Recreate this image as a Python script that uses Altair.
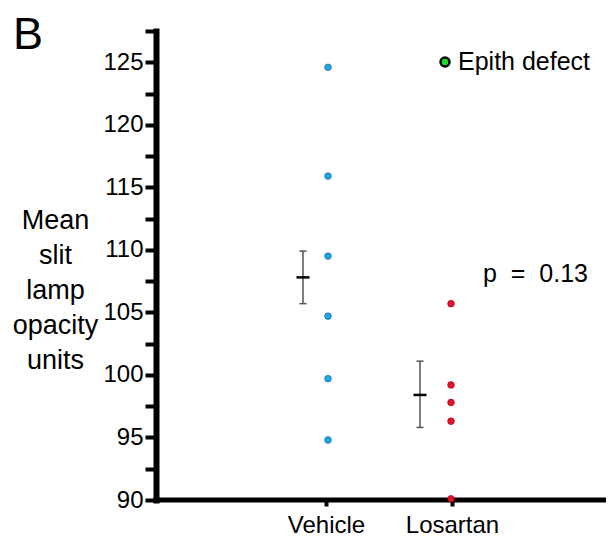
import altair as alt
import pandas as pd

# ---- data ----
groups = ["Vehicle", "Losartan"]
vehicle_values = [124.6, 115.9, 109.5, 104.7, 99.7, 94.8]
losartan_values = [105.7, 99.2, 97.8, 96.3, 90.1]
group_means = [107.8, 98.4]
err_upper = [109.9, 101.1]
err_lower = [105.7, 95.8]
y_ticks = [90 + 2.5 * i for i in range(16)]
p_label = "p\u00a0\u00a0=\u00a0\u00a00.13"
legend_label = "Epith defect"
panel_label = "B"
y_title = ["Mean", "slit", "lamp", "opacity", "units"]

FONT = "Liberation Sans"
dot_colors = {"Vehicle": "#22a4e6", "Losartan": "#e8102e"}
dot_strokes = {"Vehicle": "#14628f", "Losartan": "#8a0a1c"}
dot_offset = {"Vehicle": 2, "Losartan": -1}
bar_offset = {"Vehicle": -23, "Losartan": -32}

points_df = pd.DataFrame({
    "group": ["Vehicle"] * len(vehicle_values) + ["Losartan"] * len(losartan_values),
    "value": vehicle_values + losartan_values,
})
summary_df = pd.DataFrame({
    "group": groups,
    "mean": group_means,
    "upper": err_upper,
    "lower": err_lower,
})

x_enc = alt.X(
    "group:N",
    scale=alt.Scale(type="point", domain=groups, range=[170, 296], padding=0),
    axis=alt.Axis(
        title=None, labelAngle=0, labelFont=FONT, labelFontSize=24, labelColor="black",
        domain=False, tickColor="black", tickWidth=4, tickSize=6, labelPadding=7, grid=False,
    ),
)
y_scale = alt.Scale(domain=[90, 127.5], nice=False, zero=False)
y_axis = alt.Axis(
    values=y_ticks,
    labelExpr="datum.value % 5 == 0 ? datum.label : ''",
    labelFont=FONT, labelFontSize=24, labelColor="black", labelPadding=2,
    domainColor="black", domainWidth=6, domainCap="square",
    tickColor="black", tickWidth=4, tickSize=11, grid=False,
    title=y_title, titleFont=FONT, titleFontSize=27, titleFontWeight="normal",
    titleColor="black", titleAngle=0, titleAlign="center", titleBaseline="alphabetic",
    titleX=-101, titleY=197, titleLineHeight=35,
)

ann_df = pd.DataFrame({"label": [panel_label]})

# x-axis baseline across the whole plot width
x_line = alt.Chart(ann_df).mark_rule(color="black", strokeWidth=5, strokeCap="square").encode(
    x=alt.value(0), x2=alt.value(450), y=alt.value(469))

layers = [x_line]
for g in groups:
    base = alt.Chart(summary_df).transform_filter(alt.datum.group == g)
    rule = base.mark_rule(color="#555555", strokeWidth=1.5, xOffset=bar_offset[g]).encode(
        x=x_enc, y=alt.Y("lower:Q", scale=y_scale, axis=y_axis), y2="upper:Q")
    cap_hi = base.mark_tick(orient="horizontal", size=7, thickness=1.5, color="#555555",
                            xOffset=bar_offset[g], opacity=1).encode(
        x=x_enc, y=alt.Y("upper:Q", scale=y_scale, axis=y_axis))
    cap_lo = base.mark_tick(orient="horizontal", size=7, thickness=1.5, color="#555555",
                            xOffset=bar_offset[g], opacity=1).encode(
        x=x_enc, y=alt.Y("lower:Q", scale=y_scale, axis=y_axis))
    mean_tick = base.mark_tick(orient="horizontal", size=13, thickness=2.5, color="black",
                               xOffset=bar_offset[g], opacity=1).encode(
        x=x_enc, y=alt.Y("mean:Q", scale=y_scale, axis=y_axis))
    layers += [rule, cap_hi, cap_lo, mean_tick]

    pts = alt.Chart(points_df).transform_filter(alt.datum.group == g).mark_circle(
        size=45, opacity=1, color=dot_colors[g], stroke=dot_strokes[g], strokeWidth=0.6,
        xOffset=dot_offset[g],
    ).encode(x=x_enc, y=alt.Y("value:Q", scale=y_scale, axis=y_axis))
    layers.append(pts)

panel = alt.Chart(ann_df).mark_text(
    font=FONT, fontSize=45, align="left", baseline="alphabetic", color="black"
).encode(x=alt.value(-143), y=alt.value(18), text="label:N")

leg_df = pd.DataFrame({"label": [legend_label]})
leg_dot = alt.Chart(leg_df).mark_point(
    filled=True, fill="#1edc1e", stroke="black", strokeWidth=2.5, size=80, opacity=1
).encode(x=alt.value(289), y=alt.value(31))
leg_text = alt.Chart(leg_df).mark_text(
    font=FONT, fontSize=25, align="left", baseline="middle", color="black"
).encode(x=alt.value(302), y=alt.value(31), text="label:N")

p_df = pd.DataFrame({"label": [p_label]})
p_text = alt.Chart(p_df).mark_text(
    font=FONT, fontSize=25, align="left", baseline="alphabetic", color="black"
).encode(x=alt.value(327), y=alt.value(251), text="label:N")

chart = alt.layer(*layers, panel, leg_dot, leg_text, p_text).properties(
    width=450, height=469,
    autosize=alt.AutoSizeParams(type="none"),
    padding={"left": 148, "top": 23, "right": 0, "bottom": 40},
    background="white",
).configure_view(stroke=None)

chart.save("out.html", embed_options={"renderer": "svg", "actions": False})
